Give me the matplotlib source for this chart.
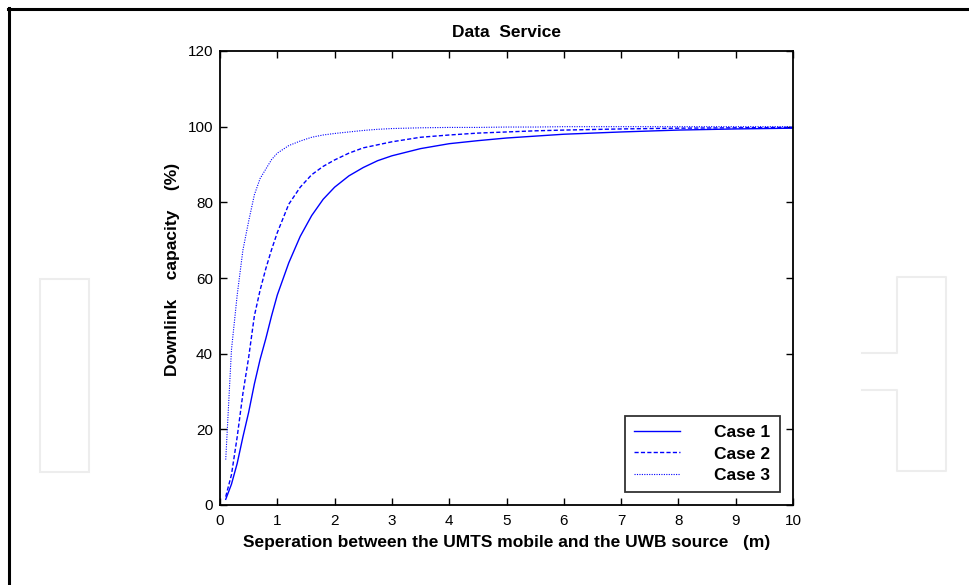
import matplotlib
matplotlib.use("Agg")
import matplotlib.pyplot as plt
from matplotlib.lines import Line2D
from matplotlib.patches import Rectangle

plt.rcParams['font.family'] = ['Liberation Sans', 'DejaVu Sans']

# separation (m)
sep = [0.1, 0.2, 0.3, 0.4, 0.5, 0.6, 0.7, 0.8, 0.9, 1.0, 1.2, 1.4, 1.6, 1.8,
       2.0, 2.25, 2.5, 2.75, 3.0, 3.5, 4.0, 4.5, 5.0, 5.5, 6.0, 7.0, 8.0, 9.0, 10.0]

# downlink capacity (%)
case1 = [1.5, 5.5, 11, 18, 24.5, 32, 38.5, 44, 50, 55.5, 64, 71, 76.5, 80.8,
         84, 87, 89.2, 91, 92.3, 94.2, 95.5, 96.3, 97, 97.5, 98, 98.6, 99.1, 99.4, 99.6]
case2 = [2.2, 8, 18, 29.5, 39, 50, 56.8, 62.5, 67.5, 72, 79.5, 84, 87.3, 89.5,
         91.2, 93, 94.4, 95.2, 96, 97.2, 97.8, 98.3, 98.6, 98.9, 99.1, 99.4, 99.6, 99.7, 99.8]
case3 = [12, 41, 55.5, 67.4, 75, 82, 86.3, 88.8, 91.3, 93, 95, 96.2, 97.2, 97.8,
         98.2, 98.6, 99, 99.3, 99.5, 99.7, 99.8, 99.8, 99.9, 99.9, 100, 100, 100, 100, 100]

labels = ['Case 1', 'Case 2', 'Case 3']

W, H = 969, 585
fig = plt.figure(figsize=(W / 100, H / 100), dpi=100)

# page frame (top and left edges) and faint watermark outlines
def px(x, y):
    return x / W, 1 - y / H

wm = '#ededed'
fig.add_artist(Line2D([8 / W, 1], [1 - 9 / H] * 2, color='black', lw=2.2))
fig.add_artist(Line2D([9 / W] * 2, [0, 1 - 8 / H], color='black', lw=2.2))
fig.add_artist(Rectangle(px(40, 472), 49 / W, 193 / H, fill=False, edgecolor=wm, lw=1.5))
xs = [862, 897, 897, 946, 946, 897, 897, 862]
ys = [353, 353, 277, 277, 471, 471, 390, 390]
fig.add_artist(Line2D([x / W for x in xs], [1 - y / H for y in ys], color=wm, lw=1.5))

ax = fig.add_axes([220 / W, 1 - 505 / H, 573 / W, 454 / H])
ax.plot(sep, case1, color='blue', lw=1.0, ls='-', label=labels[0])
ax.plot(sep, case2, color='blue', lw=1.0, ls=(0, (3, 1.6)), label=labels[1])
ax.plot(sep, case3, color='blue', lw=0.8, ls=(0, (1, 1.2)), label=labels[2])

ax.set_xlim(0, 10)
ax.set_ylim(0, 120)
ax.set_xticks(range(0, 11))
ax.set_yticks(range(0, 121, 20))
ax.tick_params(direction='in', top=True, right=True, length=5, width=1,
               labelsize=11, pad=5)
ax.tick_params(axis='x', pad=6.5)
for s in ax.spines.values():
    s.set_linewidth(1.3)

ax.set_title('Data  Service', fontsize=12.5, fontweight='bold', pad=10)
ax.set_xlabel('Seperation between the UMTS mobile and the UWB source   (m)',
              fontsize=12.5, fontweight='bold', labelpad=5)
ax.set_ylabel('Downlink    capacity    (%)', fontsize=12.5, fontweight='bold')
ax.yaxis.set_label_coords(-0.070, 0.518)

leg = ax.legend(loc='lower right', bbox_to_anchor=(0.977, 0.028),
                prop={'weight': 'bold', 'size': 12.5}, frameon=True, fancybox=False,
                handlelength=2.65, handletextpad=1.95, labelspacing=0.35,
                borderpad=0.55, borderaxespad=0)
leg.get_frame().set_edgecolor('black')
leg.get_frame().set_linewidth(1.3)

fig.savefig('out.png', dpi=100)
